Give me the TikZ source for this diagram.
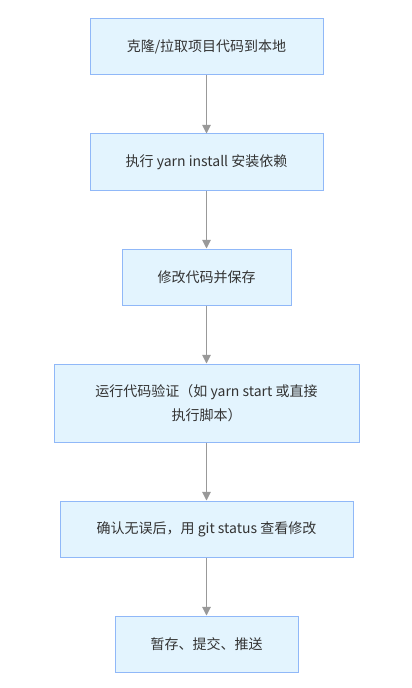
\documentclass[tikz,border=0pt]{standalone}
\usepackage{fontspec}
\setmainfont{Noto Sans CJK SC}
\usetikzlibrary{arrows.meta}
\definecolor{boxfill}{HTML}{E3F4FE}
\definecolor{boxline}{HTML}{90B8F8}
\definecolor{txt}{HTML}{333333}
\definecolor{arr}{HTML}{999999}
\tikzset{
  stepbox/.style={draw=boxline, fill=boxfill, line width=0.75pt, minimum height=42pt,
    inner sep=0pt, align=center, text=txt, font=\fontsize{10.5pt}{18pt}\selectfont},
  flow/.style={draw=arr, line width=0.75pt, -{Triangle[width=6.5pt,length=6.5pt]}}
}
\begin{document}
\begin{tikzpicture}[x=0.75pt,y=-0.75pt]
\useasboundingbox (0,0) rectangle (411,688);
\node[stepbox, minimum width=174.75pt] (a) at (206.5,47) {克隆/拉取项目代码到本地};
\node[stepbox, minimum width=174.75pt] (b) at (206.5,162) {执行 yarn install 安装依赖};
\node[stepbox, minimum width=126.75pt] (c) at (206.5,277) {修改代码并保存};
\node[stepbox, minimum width=228.75pt, minimum height=58.5pt] (d) at (206.5,403) {运行代码验证（如 yarn start 或直接\\执行脚本）};
\node[stepbox, minimum width=219.75pt] (e) at (206.5,529) {确认无误后，用 git status 查看修改};
\node[stepbox, minimum width=137.25pt] (f) at (206.5,644) {暂存、提交、推送};
\draw[flow] (a.south) -- (b.north);
\draw[flow] (b.south) -- (c.north);
\draw[flow] (c.south) -- (d.north);
\draw[flow] (d.south) -- (e.north);
\draw[flow] (e.south) -- (f.north);
\end{tikzpicture}
\end{document}
